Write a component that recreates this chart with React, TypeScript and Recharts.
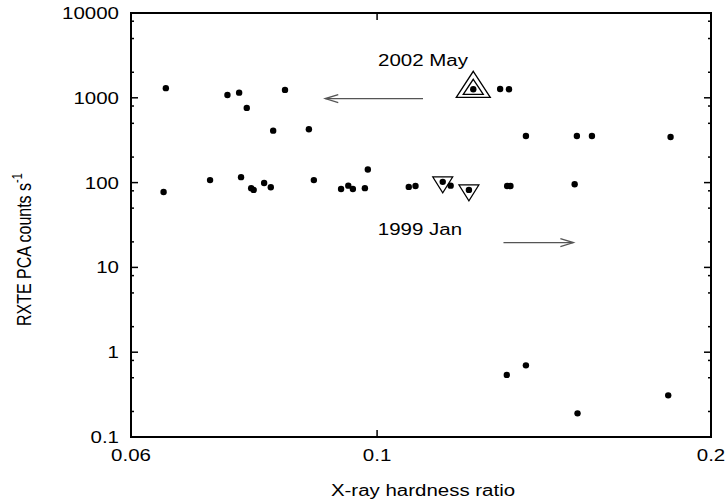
import React, { useLayoutEffect } from "react";
import {
  ScatterChart,
  Scatter,
  XAxis,
  YAxis,
  ReferenceLine,
  ReferenceDot,
} from "recharts";

// hardness ratio / PCA count rate
const hardness = [
  0.0645, 0.0733, 0.0751, 0.0763, 0.0826, 0.0806, 0.0868, 0.1221, 0.1291,
  0.1315, 0.1362, 0.1514, 0.1562, 0.1839, 0.0642, 0.0707, 0.0754, 0.077,
  0.0774, 0.0791, 0.0802, 0.0877, 0.0928, 0.0942, 0.0951, 0.0975, 0.0981,
  0.1068, 0.1083, 0.1146, 0.1165, 0.121, 0.131, 0.1319, 0.1507, 0.1309,
  0.1362, 0.1516, 0.183,
];
const counts = [
  1300, 1080, 1150, 760, 1240, 410, 425, 1260, 1270, 1260, 354, 354, 354, 345,
  77.5, 107, 116, 86, 82, 99, 88, 107, 84, 92, 84, 86, 143, 89, 91, 102, 92,
  82, 91, 91, 95.5, 0.54, 0.7, 0.19, 0.31,
];

const mayHardness = [0.1221];
const mayCounts = [1260];
const janHardness = [0.1146, 0.121];
const janCounts = [102, 82];

const xTicks = [0.06, 0.1, 0.2];
const yTicks = [
  0.1, 0.2, 0.5, 0.8, 1, 2, 5, 8, 10, 20, 50, 80, 100, 200, 500, 800, 1000,
  2000, 5000, 8000, 10000,
];
const xRange = [0.06, 0.2];
const yRange = [0.1, 10000];

const points = hardness.map((x, i) => ({ x, y: counts[i] }));
const mayPoints = mayHardness.map((x, i) => ({ x, y: mayCounts[i] }));
const janPoints = janHardness.map((x, i) => ({ x, y: janCounts[i] }));

const W = 725;
const H = 503;
const M = { top: 13, right: 14, bottom: 0, left: 0 };
const Y_W = 131;
const X_H = 66;
const PLOT_W = W - M.left - M.right - Y_W; // 580
const PLOT_H = H - M.top - M.bottom - X_H; // 424

const FONT = "'Liberation Sans', Arial, sans-serif";
const SX = 1.28; // the original figure is stretched horizontally

const isDecade = (v: number) =>
  Math.abs(Math.log10(v) - Math.round(Math.log10(v))) < 1e-6;

const Txt = ({ x, y, anchor, children, size = 16 }: any) => (
  <g transform={`translate(${x},${y}) scale(${SX},1)`}>
    <text x={0} y={0} textAnchor={anchor} fontFamily={FONT} fontSize={size} fill="#000">
      {children}
    </text>
  </g>
);

const BottomLabel = ({ x, y, payload }: any) => (
  <Txt x={x} y={y + 24} anchor="middle">
    {String(payload.value)}
  </Txt>
);

const LeftLabel = ({ x, y, payload }: any) =>
  isDecade(payload.value) ? (
    <Txt x={x - 12} y={y + 6} anchor="end">
      {String(payload.value)}
    </Txt>
  ) : (
    <g />
  );

// inward tick marks, drawn at the plot edges
const tickMark = (dx: number, dy: number) => ({ cx, cy }: any) => (
  <line x1={cx} y1={cy} x2={cx + dx} y2={cy + dy} stroke="#000" strokeWidth={1.5} />
);

const Edge = ({ x1, y1, x2, y2 }: any) => (
  <line x1={x1} y1={y1} x2={x2} y2={y2} stroke="#000" strokeWidth={2} strokeLinecap="square" />
);

const XTitle = ({ viewBox }: any) => (
  <Txt x={viewBox.x + viewBox.width / 2 + 2} y={viewBox.y + 59} anchor="middle">
    X-ray hardness ratio
  </Txt>
);

const YTitle = () => (
  <g transform={`translate(30.5,326) scale(${SX},1) rotate(-90)`}>
    <text x={0} y={0} textAnchor="start" fontFamily={FONT} fontSize={16} fill="#000">
      RXTE PCA counts s
      <tspan dy={-7} fontSize={11}>
        -1
      </tspan>
    </text>
  </g>
);

const Dot = ({ cx, cy }: any) => <circle cx={cx} cy={cy} r={3.2} fill="#000" />;

const UpTriangles = ({ cx, cy }: any) => (
  <g fill="none" stroke="#000" strokeWidth={1.3}>
    <polygon points={`${cx},${cy - 18} ${cx + 17},${cy + 8} ${cx - 17},${cy + 8}`} />
    <polygon points={`${cx},${cy - 10} ${cx + 10},${cy + 5} ${cx - 10},${cy + 5}`} />
  </g>
);

const DownTriangle = ({ cx, cy }: any) => (
  <polygon
    points={`${cx - 10},${cy - 5} ${cx + 10},${cy - 5} ${cx},${cy + 11}`}
    fill="none"
    stroke="#000"
    strokeWidth={1.2}
  />
);

const Arrow = ({ x1, y1, x2, y2 }: any) => {
  const d = x2 > x1 ? 1 : -1;
  return (
    <g stroke="#555" strokeWidth={1.3} fill="none">
      <line x1={x1} y1={y1} x2={x2} y2={y2} />
      <polyline points={`${x2 - d * 13},${y2 - 4} ${x2},${y2} ${x2 - d * 13},${y2 + 4}`} />
    </g>
  );
};

const Note = (text: string) => ({ cx, cy }: any) => (
  <Txt x={cx} y={cy + 6} anchor="middle">
    {text}
  </Txt>
);

const edges = [
  [{ x: xRange[0], y: yRange[0] }, { x: xRange[1], y: yRange[0] }],
  [{ x: xRange[0], y: yRange[1] }, { x: xRange[1], y: yRange[1] }],
  [{ x: xRange[0], y: yRange[0] }, { x: xRange[0], y: yRange[1] }],
  [{ x: xRange[1], y: yRange[0] }, { x: xRange[1], y: yRange[1] }],
];

export default function App() {
  useLayoutEffect(() => {
    document.body.style.margin = "0";
  }, []);
  return (
    <div style={{ position: "relative", width: W, height: H }}>
      <style>{`body{margin:0}`}</style>
      <ScatterChart width={W} height={H} margin={M}>
        <XAxis
          dataKey="x"
          type="number"
          scale="log"
          domain={xRange}
          allowDataOverflow
          ticks={xTicks}
          interval={0}
          height={X_H}
          tickSize={0}
          tickMargin={0}
          tickLine={false}
          tick={BottomLabel}
          axisLine={false}
          label={{ content: XTitle }}
        />
        <YAxis
          dataKey="y"
          type="number"
          scale="log"
          domain={yRange}
          allowDataOverflow
          ticks={yTicks}
          interval={0}
          width={Y_W}
          tickSize={0}
          tickMargin={0}
          tickLine={false}
          tick={LeftLabel}
          axisLine={false}
          label={{ content: YTitle }}
        />
        {edges.map((seg, i) => (
          <ReferenceLine key={`e${i}`} segment={seg} ifOverflow="visible" shape={Edge} />
        ))}
        {yTicks.map((v) => (
          <ReferenceDot
            key={`l${v}`}
            x={xRange[0]}
            y={v}
            r={0}
            ifOverflow="visible"
            shape={tickMark(isDecade(v) ? 7 : 3, 0)}
          />
        ))}
        {yTicks.map((v) => (
          <ReferenceDot
            key={`r${v}`}
            x={xRange[1]}
            y={v}
            r={0}
            ifOverflow="visible"
            shape={tickMark(isDecade(v) ? -7 : -3, 0)}
          />
        ))}
        {xTicks.map((v) => (
          <ReferenceDot key={`b${v}`} x={v} y={yRange[0]} r={0} ifOverflow="visible" shape={tickMark(0, -7)} />
        ))}
        {xTicks.map((v) => (
          <ReferenceDot key={`t${v}`} x={v} y={yRange[1]} r={0} ifOverflow="visible" shape={tickMark(0, 7)} />
        ))}
        <ReferenceLine
          segment={[
            { x: 0.11, y: 980 },
            { x: 0.0898, y: 980 },
          ]}
          ifOverflow="visible"
          shape={Arrow}
        />
        <ReferenceLine
          segment={[
            { x: 0.13, y: 19.6 },
            { x: 0.1503, y: 19.6 },
          ]}
          ifOverflow="visible"
          shape={Arrow}
        />
        <ReferenceDot x={0.11} y={2800} r={0} ifOverflow="visible" shape={Note("2002 May")} />
        <ReferenceDot x={0.1093} y={28.1} r={0} ifOverflow="visible" shape={Note("1999 Jan")} />
        <Scatter data={mayPoints} shape={UpTriangles} isAnimationActive={false} />
        <Scatter data={janPoints} shape={DownTriangle} isAnimationActive={false} />
        <Scatter data={points} shape={Dot} isAnimationActive={false} />
      </ScatterChart>
      {/* plot frame overlay */}
      <div
        style={{
          position: "absolute",
          left: Y_W + M.left - 1,
          top: M.top - 1,
          width: PLOT_W + 2,
          height: PLOT_H + 2,
          boxSizing: "border-box",
          border: "2px solid #000",
          pointerEvents: "none",
        }}
      />
    </div>
  );
}
